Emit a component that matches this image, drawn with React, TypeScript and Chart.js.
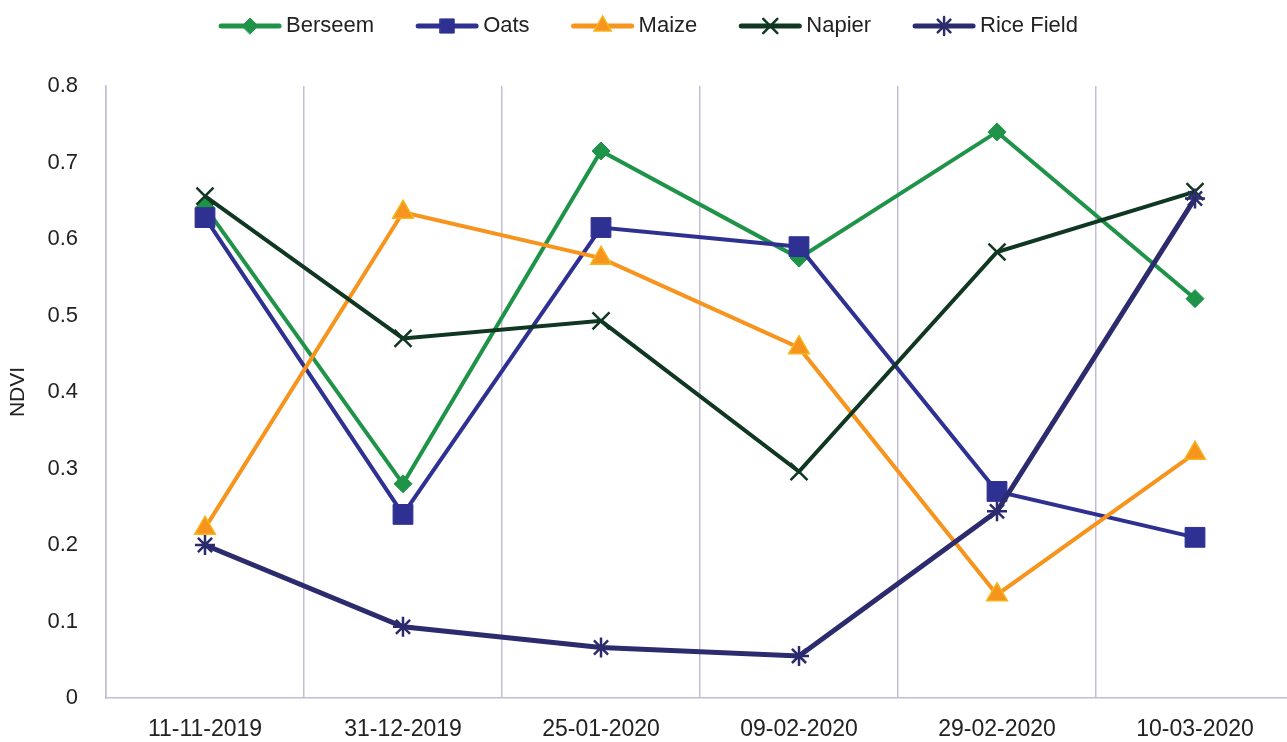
import React, { useEffect, useRef } from "react";
import { Chart, registerables } from "chart.js";
import { drawPoint } from "chart.js/helpers";

Chart.register(...registerables);

const categories = ["11-11-2019", "31-12-2019", "25-01-2020", "09-02-2020", "29-02-2020", "10-03-2020"];
const berseem = [0.642, 0.28, 0.715, 0.575, 0.74, 0.522];
const oats = [0.628, 0.24, 0.615, 0.59, 0.27, 0.21];
const maize = [0.222, 0.635, 0.575, 0.458, 0.135, 0.32];
const napier = [0.656, 0.47, 0.493, 0.296, 0.583, 0.662];
const riceField = [0.2, 0.093, 0.066, 0.055, 0.244, 0.653];
const yTicks = [0, 0.1, 0.2, 0.3, 0.4, 0.5, 0.6, 0.7, 0.8];

const FONT = '"Liberation Sans", Arial, sans-serif';
const GRID = "#c3bcd6";

type Series = {
  label: string;
  data: number[];
  color: string;
  fill: string;
  edge: string;
  style: string;
  radius: number;
  legendRadius: number;
  pbw: number;
  lw: number;
};

const series: Series[] = [
  { label: "Berseem", data: berseem, color: "#1f9448", fill: "#1f9448", edge: "#1f9448", style: "rectRot", radius: 9, legendRadius: 8, pbw: 1, lw: 4 },
  { label: "Oats", data: oats, color: "#2e3192", fill: "#2e3192", edge: "#2e3192", style: "rect", radius: 14, legendRadius: 10, pbw: 1, lw: 4 },
  { label: "Maize", data: maize, color: "#f7941d", fill: "#f7941d", edge: "#f6b51c", style: "triangle", radius: 12, legendRadius: 10, pbw: 1.5, lw: 4 },
  { label: "Napier", data: napier, color: "#0f3722", fill: "#0f3722", edge: "#0f3722", style: "crossRot", radius: 12, legendRadius: 10, pbw: 2.5, lw: 4 },
  { label: "Rice Field", data: riceField, color: "#2b2b6e", fill: "#2b2b6e", edge: "#2b2b6e", style: "star", radius: 10, legendRadius: 9, pbw: 2.5, lw: 5 },
];

const legendPlugin = {
  id: "customLegend",
  afterDraw(chart: any) {
    const ctx = chart.ctx as CanvasRenderingContext2D;
    ctx.save();
    ctx.font = `22px ${FONT}`;
    const lineLen = 62;
    const gapText = 5;
    const gapItem = 42;
    const widths = series.map((s) => ctx.measureText(s.label).width);
    const total = widths.reduce((a, w) => a + lineLen + gapText + w, 0) + gapItem * (series.length - 1);
    let x = 648.5 - total / 2;
    const y = 26;
    series.forEach((s, i) => {
      ctx.strokeStyle = s.color;
      ctx.lineWidth = 5;
      ctx.lineCap = "round";
      ctx.beginPath();
      ctx.moveTo(x + 2, y);
      ctx.lineTo(x + lineLen - 2, y);
      ctx.stroke();
      ctx.fillStyle = s.fill;
      ctx.strokeStyle = s.edge;
      ctx.lineWidth = s.pbw;
      drawPoint(ctx, { pointStyle: s.style as any, rotation: 0, radius: s.legendRadius, borderWidth: s.pbw }, x + lineLen / 2, y);
      ctx.fillStyle = "#222";
      ctx.textBaseline = "middle";
      ctx.textAlign = "left";
      ctx.fillText(s.label, x + lineLen + gapText, y);
      x += lineLen + gapText + widths[i] + gapItem;
    });
    ctx.restore();
  },
};

export default function App() {
  const ref = useRef<HTMLCanvasElement | null>(null);
  useEffect(() => {
    if (!ref.current) return;
    const chart = new Chart(ref.current, {
      type: "line",
      data: {
        labels: categories,
        datasets: series.map((s, i) => ({
          label: s.label,
          data: s.data,
          borderColor: s.color,
          backgroundColor: s.fill,
          borderWidth: s.lw,
          tension: 0,
          pointStyle: s.style as any,
          pointRadius: s.radius,
          pointBackgroundColor: s.fill,
          pointBorderColor: s.edge,
          pointBorderWidth: s.pbw,
          order: series.length - i,
          fill: false,
        })),
      },
      options: {
        animation: false,
        responsive: false,
        devicePixelRatio: 1,
        layout: { padding: { top: 86, right: 6, left: 0, bottom: 0 } },
        plugins: {
          legend: { display: false },
          tooltip: { enabled: false },
        },
        scales: {
          x: {
            type: "category",
            offset: true,
            grid: { display: true, offset: true, color: GRID, lineWidth: 1.5, drawTicks: false },
            border: { display: true, color: GRID, width: 1.5 },
            ticks: { font: { family: FONT, size: 23 }, color: "#222", padding: 18, maxRotation: 0, autoSkip: false },
            afterFit: (scale: any) => {
              scale.height = 44;
            },
          },
          y: {
            min: 0,
            max: 0.8,
            grid: { display: false, drawTicks: false },
            border: { display: true, color: GRID, width: 1.5 },
            afterBuildTicks: (scale: any) => {
              scale.ticks = yTicks.map((v) => ({ value: v }));
            },
            ticks: {
              font: { family: FONT, size: 22 },
              color: "#222",
              padding: 28,
              callback: (v: any) => (Number(v) === 0 ? "0" : Number(v).toFixed(1)),
            },
            title: { display: true, text: "NDVI", font: { family: FONT, size: 21 }, color: "#222", padding: { top: 6, bottom: 0 } },
            afterFit: (scale: any) => {
              scale.width = 106;
            },
          },
        },
      },
      plugins: [legendPlugin],
    });
    return () => chart.destroy();
  }, []);
  return (
    <div style={{ position: "fixed", left: 0, top: 0, width: 1287, height: 742, overflow: "hidden", background: "#fff" }}>
      <canvas ref={ref} width={1309} height={742} style={{ width: 1309, height: 742, display: "block" }} />
    </div>
  );
}
